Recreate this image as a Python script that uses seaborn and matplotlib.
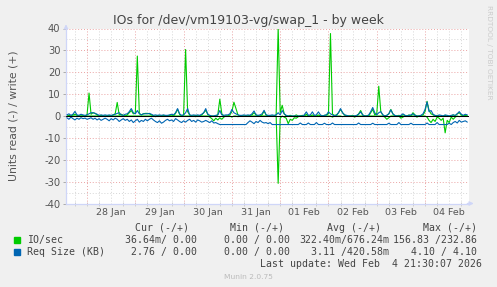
import numpy as np
import pandas as pd
import matplotlib
matplotlib.use("Agg")
import matplotlib.pyplot as plt
import seaborn as sns
from matplotlib.ticker import FixedLocator

# ---------------- data ----------------
title = "IOs for /dev/vm19103-vg/swap_1 - by week"
ylabel = "Units read (-) / write (+)"
start_hour = -10          # first sample, hours relative to 28 Jan 00:00 (hourly samples)
day_labels = ["28 Jan", "29 Jan", "30 Jan", "31 Jan", "01 Feb", "02 Feb", "03 Feb", "04 Feb"]
y_ticks = [-40, -30, -20, -10, 0, 10, 20, 30, 40]

io_write = [
    0, 0.3, 0, 0.5, 0.8, 0.3, 0, 0, 0.2, 0,
    0.5, 10.5, 0.8, 1.5, 1.2, 0.5, 0, 0.3, 0, 0,
    0, 0.2, 0, 0.5, 1.0, 6.2, 0.5, 0.8, 0.3, 0,
    0.5, 1.5, 2.5, 1.0, 1.2, 27.4, 1.2, 0.5, 1.0, 1.2,
    1.2, 1.0, 0.5, 0, 0, 0.2, 0, 0, 0.3, 0,
    0, 0.3, 0.5, 0, 1.2, 3.0, 0.8, 0, 0.5, 30.4,
    2.0, 0.5, 0, 0, 0.3, 0, 0, 0.5, 1.5, 2.6,
    0.8, 0, 0, 0, 0, 0.5, 7.7, 1.0, 0, 0,
    0, 0.5, 2.0, 6.3, 3.5, 0.5, 0, 0, 0, 0,
    0, 0.3, 0.5, 1.5, 0.5, 0, 0, 0.5, 2.2, 0.5,
    0, 0, 0, 0, 0.5, 40.5, 1.5, 4.9, 1.0, 0,
    0, 0.3, 0, 0, 0.5, 0, 0, 0.3, 0, 0.8,
    0, 0, 0.5, 0, 0, 0.5, 0, 0, 0.3, 0.5,
    1.0, 37.7, 0.8, 0.3, 0.5, 1.5, 3.0, 1.5, 0.5, 0,
    0, 0, 0.3, 0, 0, 1.0, 2.5, 0.5, 0, 0,
    0, 1.5, 3.0, 0.5, 1.0, 13.6, 2.0, 0.5, 0, 0.3,
    1.0, 3.0, 1.0, 0, 0, 0.3, 0, 0.5, 0.3, 0,
    0.5, 0, 1.5, 0.5, 0, 0, 0.3, 0.5, 2.0, 6.7,
    2.5, 1.0, 0.5, 0, 0.3, 0, 0, 0, 0.3, 0,
    0, 0, 0.5, 0, 1.0, 1.5, 0.5, 0, 0.3, 0,
]
io_read = [
    0, 0, 0.3, 0, 0, 0.2, 0, 0, 0, 0.3,
    0, 0, 0, 0, 0, 0, 0.3, 0, 0, 0,
    0, 0, 0, 0, 0, 0, 0, 0, 0, 0,
    0, 0, 0, 0, 0, 0, 0, 0, 0, 0,
    0, 0, 0, 0, 0.3, 0, 0, 0, 0, 0,
    0, 0, 0, 0, 0, 0, 0, 0, 0, 0,
    0, 0, 0, 0, 0.3, 0, 0, 0, 0, 0,
    0, 0.5, 1.2, 2.2, 1.0, 1.8, 0.8, 1.5, 0.5, 0,
    0, 0, 0.5, 0, 0, 0.3, 0, 0, 0, 0,
    0, 0, 0, 0, 0, 0, 0, 0, 0, 0,
    0, 0, 0, 0, 0, 30.8, 1.0, 0, 0.5, 1.0,
    3.5, 1.5, 2.0, 0.8, 1.0, 0.3, 0, 0, 0, 0,
    0, 0, 0, 0, 0, 0, 0, 0, 0, 0,
    0, 0, 0.5, 0, 0, 0, 0, 0.3, 0, 0,
    0, 0, 0, 0.5, 0, 0, 0, 0, 0, 0,
    0, 0, 0, 0, 0, 0, 0, 0, 0.5, 1.5,
    0.8, 0, 0, 0, 0, 0, 1.0, 0.5, 0, 0,
    0, 0, 0, 0, 0.5, 0, 0, 0, 0, 0.5,
    2.0, 3.0, 1.5, 2.5, 0.5, 1.0, 2.0, 1.0, 7.7, 2.0,
    3.0, 0.5, 1.5, 0.5, 0, 0.3, 0, 0, 0, 0,
]
req_write = [
    0.5, 1.0, 0.3, 0.8, 2.1, 0.5, 0.3, 0.8, 0.5, 0.3,
    0.5, 1.0, 1.5, 1.5, 1.2, 0.8, 0.3, 0.5, 0.3, 0.5,
    0.3, 0.5, 0.3, 0.5, 0.8, 1.2, 1.5, 0.5, 0.3, 0.8,
    1.0, 2.0, 3.4, 1.5, 1.0, 2.5, 1.0, 0.5, 1.0, 1.0,
    1.0, 1.2, 0.8, 0.3, 0.5, 0.3, 0.5, 0.3, 0.5, 0.3,
    0.3, 0.5, 0.8, 0.5, 1.5, 3.4, 1.0, 0.3, 0.5, 1.5,
    3.4, 0.5, 0.3, 0.5, 0.3, 0.5, 0.3, 0.8, 1.5, 3.4,
    0.8, 0.3, 0, 0, 0.3, 0.5, 2.5, 0.5, 0.3, 0.5,
    0.5, 1.0, 3.0, 1.5, 1.0, 0.5, 0.3, 0.3, 0.5, 0.3,
    0.5, 0.3, 1.0, 2.3, 0.5, 0.3, 0.5, 1.0, 2.6, 0.5,
    0.3, 0.3, 0.5, 0.3, 0.5, 1.5, 0.5, 2.5, 1.0, 0.3,
    0, 0, 0, 0, 0, 0, 0, 0, 0.5, 1.9,
    0.3, 0.5, 1.9, 0.3, 0.5, 1.9, 0.5, 0, 0.3, 0.5,
    1.9, 1.0, 0.5, 0, 0.3, 1.5, 3.4, 1.5, 0.5, 0.3,
    0, 0, 0, 0, 0.3, 0.8, 1.9, 0.5, 0, 0,
    0.5, 2.0, 3.9, 1.5, 0.5, 1.5, 2.0, 0.5, 0, 0.3,
    1.0, 2.8, 1.0, 0.3, 0, 0, 0.3, 1.0, 0.3, 0,
    0.3, 0.5, 1.0, 0.3, 0, 0, 0.3, 1.0, 3.0, 6.4,
    2.0, 2.5, 0.8, 0.3, 0, 0.5, 0.3, 0, 0.5, 0.3,
    0, 0.3, 0.5, 0.3, 1.0, 2.0, 0.8, 0.3, 0.8, 0.5,
]
req_read = [
    0.8, 1.5, 0.5, 1.2, 1.8, 1.0, 1.5, 0.8, 1.2, 1.0,
    1.5, 1.2, 0.8, 1.5, 1.0, 1.8, 1.2, 2.0, 1.5, 1.0,
    1.5, 2.2, 1.2, 1.8, 1.0, 1.5, 2.5, 1.8, 1.2, 2.0,
    1.5, 2.5, 1.8, 3.0, 2.2, 1.5, 2.8, 2.0, 2.5, 1.5,
    2.2, 1.5, 1.0, 1.8, 2.5, 3.0, 2.2, 3.3, 2.8, 2.0,
    1.5, 2.2, 1.8, 2.5, 1.2, 1.8, 2.5, 3.0, 2.2, 2.8,
    2.0, 1.5, 2.5, 2.0, 2.8, 1.8, 2.2, 2.8, 2.5, 2.0,
    2.5, 3.0, 2.2, 3.2, 3.0, 3.5, 3.9, 3.9, 3.9, 3.9,
    3.9, 3.9, 3.9, 3.9, 3.9, 3.9, 3.9, 3.9, 3.9, 3.9,
    3.0, 2.2, 2.8, 3.5, 2.5, 3.0, 2.0, 2.8, 3.2, 3.0,
    3.5, 3.0, 3.9, 3.9, 3.9, 3.9, 3.9, 3.9, 3.9, 3.9,
    3.9, 3.9, 3.9, 3.9, 3.9, 3.9, 3.2, 3.9, 3.9, 3.9,
    3.2, 3.9, 3.9, 3.9, 3.0, 3.9, 3.9, 3.9, 3.3, 3.9,
    3.9, 3.9, 3.2, 3.9, 3.9, 3.9, 3.9, 3.9, 3.9, 3.9,
    3.9, 3.9, 3.9, 3.9, 3.9, 3.2, 3.9, 3.9, 3.9, 3.9,
    3.9, 3.9, 3.3, 3.9, 3.9, 3.9, 3.9, 3.9, 3.9, 3.9,
    3.3, 3.9, 3.9, 3.9, 3.9, 3.0, 3.9, 3.9, 3.9, 3.9,
    3.9, 3.3, 3.9, 3.9, 3.9, 3.9, 3.9, 3.9, 3.9, 3.2,
    3.9, 3.9, 3.9, 3.9, 3.0, 3.9, 3.9, 3.9, 3.9, 3.9,
    3.3, 3.9, 3.0, 2.5, 3.2, 2.0, 2.8, 2.5, 2.2, 2.8,
]

legend_names = ["IO/sec", "Req Size (KB)"]
legend_headers = ["Cur (-/+)", "Min (-/+)", "Avg (-/+)", "Max (-/+)"]
cur_vals = ["36.64m/ 0.00", "2.76 / 0.00"]
min_vals = ["0.00 / 0.00", "0.00 / 0.00"]
avg_vals = ["322.40m/676.24m", "3.11 /420.58m"]
max_vals = ["156.83 /232.86", "4.10 / 4.10"]
last_update = "Last update: Wed Feb  4 21:30:07 2026"
footer = "Munin 2.0.75"
watermark = "RRDTOOL / TOBI OETIKER"

GREEN = "#00CC00"
BLUE = "#0066B3"

# ---------------- figure ----------------
sns.set_theme(style="white")
plt.rcParams["font.family"] = ["DejaVu Sans"]

W, H = 497, 287
fig = plt.figure(figsize=(W / 100, H / 100), dpi=100, facecolor="#F0F0F0")
L, R, T, B = 66, 468.5, 28.5, 203.5
ax = fig.add_axes([L / W, 1 - B / H, (R - L) / W, (B - T) / H])
ax.set_facecolor("white")

hours = np.arange(len(io_write)) + start_hour
df = pd.concat([
    pd.DataFrame({"hour": hours, "value": np.array(io_read) * -1, "series": "io_read"}),
    pd.DataFrame({"hour": hours, "value": np.array(io_write), "series": "io_write"}),
    pd.DataFrame({"hour": hours, "value": np.array(req_read) * -1, "series": "req_read"}),
    pd.DataFrame({"hour": hours, "value": np.array(req_write), "series": "req_write"}),
], ignore_index=True)

xmin, xmax = -10.45, 189.6
ax.set_xlim(xmin, xmax)
ax.set_ylim(-40, 40)

# grid
GRID = "#d6d6d6"
MGRID = "#eaa3a3"
dot = (0, (1, 2))
for h in np.arange(-6, xmax, 6):
    if h % 24 != 0:
        ax.axvline(h, color=GRID, lw=0.7, ls=dot, zorder=0.5)
day_starts = [24 * k for k in range(len(day_labels))]
for h in day_starts:
    ax.axvline(h, color=MGRID, lw=0.7, ls=dot, zorder=0.6)
for v in range(-35, 40, 10):
    ax.axhline(v, color=GRID, lw=0.7, ls=dot, zorder=0.5)
for v in y_ticks[1:]:
    if v != 0:
        ax.axhline(v, color=MGRID, lw=0.7, ls=dot, zorder=0.6)

for name, col, z in [("io_read", GREEN, 2), ("io_write", GREEN, 2.1),
                     ("req_read", BLUE, 3), ("req_write", BLUE, 3.1)]:
    sns.lineplot(data=df[df["series"] == name], x="hour", y="value", ax=ax,
                 color=col, lw=0.8, errorbar=None, sort=False, zorder=z, legend=False)

ax.axhline(0, color="black", lw=0.75, zorder=5)

# axes styling
AXIS = "#CFD6F8"
for s in ["top", "right"]:
    ax.spines[s].set_visible(False)
for s in ["left", "bottom"]:
    ax.spines[s].set_color(AXIS)
    ax.spines[s].set_linewidth(0.9)
ax.annotate("", xy=(0, 1.04), xytext=(0, 0.99), xycoords="axes fraction",
            arrowprops=dict(arrowstyle="-|>", color=AXIS, lw=0.9, mutation_scale=6), annotation_clip=False)
ax.annotate("", xy=(1.02, 0), xytext=(0.99, 0), xycoords="axes fraction",
            arrowprops=dict(arrowstyle="-|>", color=AXIS, lw=0.9, mutation_scale=6), annotation_clip=False)

ax.set_yticks(y_ticks)
ax.set_yticklabels([str(v) for v in y_ticks])
ax.tick_params(axis="y", which="major", left=True, length=2.5, width=0.7, color="#aaaaaa",
               labelsize=7.2, labelcolor="#555555", pad=1.5)
noon = [d + 12 for d in day_starts]
ax.set_xticks(noon)
ax.set_xticklabels(day_labels)
ax.tick_params(axis="x", which="major", bottom=False, length=0, labelsize=6.8,
               labelcolor="#555555", pad=3.5)
ax.xaxis.set_minor_locator(FixedLocator(list(np.arange(-6, xmax, 6))))
ax.tick_params(axis="x", which="minor", bottom=True, direction="inout", length=3, width=0.6, color="#c8c8c8")
for t in ax.xaxis.get_minor_ticks():
    if t.get_loc() % 24 == 0:
        t.tick1line.set_color("#e08080")
ax.set_xlabel("")
ax.set_ylabel("")

# texts
def ftext(x, y, s, **kw):
    fig.text(x / W, 1 - y / H, s, **kw)

ftext(248.5, 24, title, ha="center", va="baseline", fontsize=9, color="#444444")
ftext(13.5, 116, ylabel, ha="center", va="center", rotation=90, fontsize=7.8, color="#555555")
ftext(489, 5, watermark, ha="center", va="top", rotation=270, fontsize=5.3, color="#cccccc")

mono = dict(family="DejaVu Sans Mono", fontsize=7.1, color="#444444", va="baseline")
for s, x in zip(legend_headers, [134.7, 230, 326.7, 422.7]):
    ftext(x, 230.7, s, ha="left", **mono)
rows_y = [243, 255]
colors = [GREEN, BLUE]
for k in range(2):
    y = rows_y[k]
    fig.patches.append(plt.Rectangle((14 / W, 1 - (y) / H), 6 / W, 6 / H,
                                     transform=fig.transFigure, color=colors[k], figure=fig))
    ftext(26.7, y, legend_names[k], ha="left", **mono)
    ftext(196.7, y, cur_vals[k], ha="right", **mono)
    ftext(290, y, min_vals[k], ha="right", **mono)
    ftext(389.3, y, avg_vals[k], ha="right", **mono)
    ftext(476.7, y, max_vals[k], ha="right", **mono)
ftext(482.3, 266.7, last_update, ha="right", **mono)
ftext(248.5, 278.7, footer, ha="center", va="baseline", fontsize=5.4, color="#bbbbbb")

fig.savefig("out.png", dpi=100, facecolor=fig.get_facecolor())
